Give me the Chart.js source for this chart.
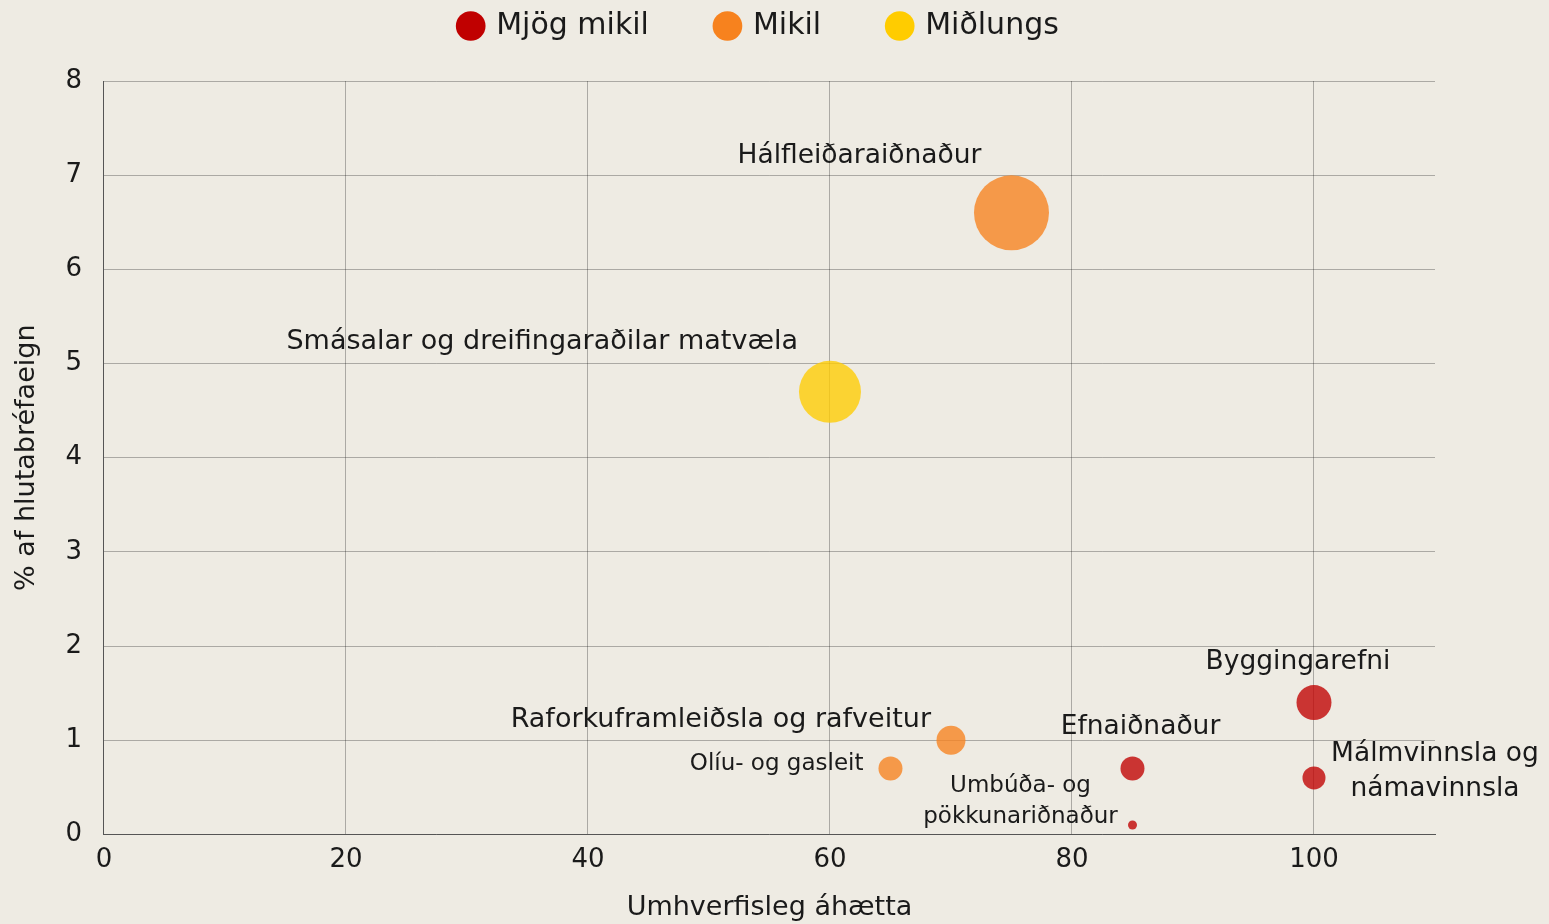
<!DOCTYPE html>
<html lang="is">
<head>
<meta charset="utf-8">
<title>Umhverfisleg áhætta</title>
<script src="https://cdn.jsdelivr.net/npm/chart.js@4"></script>
<style>
  html, body { margin: 0; padding: 0; background: #eeebe3; }
</style>
</head>
<body>
<canvas id="graf" width="1549" height="924"></canvas>
<script>
// Gögn
const flokkar = ['Mjög mikil', 'Mikil', 'Miðlungs'];
const flokkaLitir = ['#c00000', '#f7821e', '#ffcc00'];
const flokkaLitirBolur = ['rgba(192,0,0,0.78)', 'rgba(247,130,30,0.78)', 'rgba(255,204,0,0.78)'];

const greinar = ['Hálfleiðaraiðnaður', 'Smásalar og dreifingaraðilar matvæla', 'Raforkuframleiðsla og rafveitur',
  'Olíu- og gasleit', 'Efnaiðnaður', 'Umbúða- og pökkunariðnaður', 'Byggingarefni', 'Málmvinnsla og námavinnsla'];
const ahaetta = [75, 60, 70, 65, 85, 85, 100, 100];
const hlutfall = [6.6, 4.7, 1.0, 0.7, 0.7, 0.1, 1.4, 0.6];
const staerd = [37.5, 31, 14.5, 12, 12, 4.5, 17.5, 11.5];
const flokkurGreinar = [1, 2, 1, 1, 0, 0, 0, 0];

const xTicks = [0, 20, 40, 60, 80, 100];

// merkingar: línur, jöfnun, hliðrun frá miðju bólu
const merkingar = [
  { linur: ['Hálfleiðaraiðnaður'], align: 'center', dx: -152, dy: -57, size: 26.5 },
  { linur: ['Smásalar og dreifingaraðilar matvæla'], align: 'right', dx: -32, dy: -50, size: 27 },
  { linur: ['Raforkuframleiðsla og rafveitur'], align: 'right', dx: -20, dy: -20, size: 27 },
  { linur: ['Olíu- og gasleit'], align: 'right', dx: -27, dy: -4, size: 23 },
  { linur: ['Efnaiðnaður'], align: 'center', dx: 8, dy: -41, size: 26.5 },
  { linur: ['Umbúða- og', 'pökkunariðnaður'], align: 'center', dx: -112, dy: -39, size: 23, lh: 31 },
  { linur: ['Byggingarefni'], align: 'center', dx: -16, dy: -40, size: 26.5 },
  { linur: ['Málmvinnsla og', 'námavinnsla'], align: 'center', dx: 121, dy: -24, size: 26.5, lh: 35 }
];

const FONT = "'DejaVu Sans', sans-serif";

const datasets = flokkar.map((f, k) => ({
  label: f,
  data: greinar.map((g, i) => ({ x: ahaetta[i], y: hlutfall[i], r: staerd[i], idx: i }))
    .filter(d => flokkurGreinar[d.idx] === k),
  backgroundColor: flokkaLitirBolur[k],
  hoverBackgroundColor: flokkaLitirBolur[k],
  borderWidth: 0,
  legendColor: flokkaLitir[k]
}));

const merkiPlugin = {
  id: 'merki',
  afterDatasetsDraw(chart) {
    const c = chart.ctx;
    c.save();
    c.fillStyle = '#1a1a1a';
    c.textBaseline = 'middle';
    chart.data.datasets.forEach((ds, di) => {
      const meta = chart.getDatasetMeta(di);
      ds.data.forEach((d, j) => {
        const m = merkingar[d.idx];
        const el = meta.data[j];
        c.font = m.size + 'px ' + FONT;
        c.textAlign = m.align;
        m.linur.forEach((t, li) => {
          c.fillText(t, el.x + m.dx, el.y + m.dy + li * (m.lh || 0));
        });
      });
    });
    c.restore();
  }
};

// skýringar ofar og aðeins til hægri, fast bil niður að grafi
const skyringPlugin = {
  id: 'skyring',
  beforeInit(chart) {
    const fit = chart.legend.fit;
    chart.legend.fit = function () {
      fit.call(this);
      this.height = 81;
    };
  },
  afterLayout(chart) {
    const l = chart.legend;
    l.top -= 57;
    l.left += 42; l.right += 42;
  }
};

new Chart(document.getElementById('graf'), {
  type: 'bubble',
  data: { datasets },
  plugins: [merkiPlugin, skyringPlugin],
  options: {
    responsive: false,
    animation: false,
    devicePixelRatio: 1,
    layout: { padding: { left: 0, right: 114, top: 0, bottom: 0 } },
    plugins: {
      legend: {
        position: 'top',
        labels: {
          usePointStyle: true,
          pointStyle: 'circle',
          boxWidth: 21,
          boxHeight: 21,
          padding: 68,
          color: '#1a1a1a',
          font: { family: FONT, size: 30 },
          generateLabels(chart) {
            return chart.data.datasets.map((ds, i) => ({
              text: ds.label,
              fillStyle: ds.legendColor,
              strokeStyle: ds.legendColor,
              lineWidth: 0,
              pointStyle: 'circle',
              datasetIndex: i,
              fontColor: '#1a1a1a'
            }));
          }
        }
      },
      tooltip: { enabled: false }
    },
    scales: {
      x: {
        type: 'linear',
        min: 0,
        max: 110,
        afterBuildTicks(axis) { axis.ticks = xTicks.map(v => ({ value: v })); },
        ticks: { color: '#1a1a1a', font: { family: FONT, size: 26 }, padding: 10 },
        grid: { color: 'rgba(0,0,0,0.28)', lineWidth: 1, drawTicks: false },
        border: { color: '#555', width: 1 },
        title: { display: true, text: 'Umhverfisleg áhætta', color: '#1a1a1a', font: { family: FONT, size: 27 }, padding: { top: 6, bottom: 0 } }
      },
      y: {
        min: 0,
        max: 8,
        ticks: { stepSize: 1, color: '#1a1a1a', font: { family: FONT, size: 26 }, padding: 22 },
        grid: { color: 'rgba(0,0,0,0.28)', lineWidth: 1, drawTicks: false },
        border: { color: '#555', width: 1 },
        title: { display: true, text: '% af hlutabréfaeign', color: '#1a1a1a', font: { family: FONT, size: 27 }, padding: { top: 11, bottom: 0 } }
      }
    }
  }
});
</script>
</body>
</html>
